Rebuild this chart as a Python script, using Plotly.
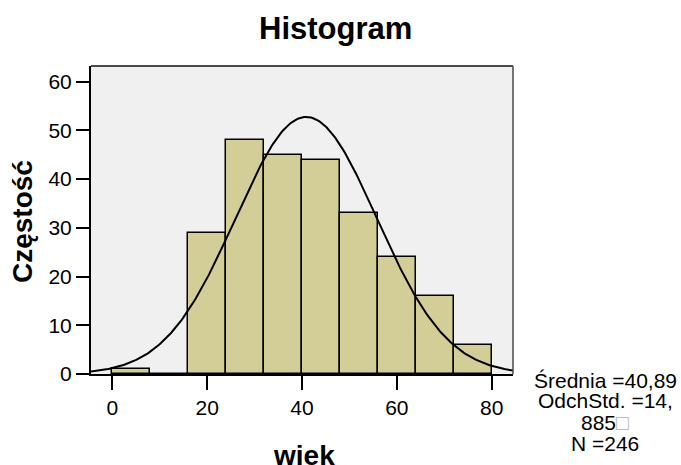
import numpy as np
import plotly.graph_objects as go

bin_starts = [0, 8, 16, 24, 32, 40, 48, 56, 64, 72]
counts = [1, 0, 29, 48, 45, 44, 33, 24, 16, 6]
bin_width = 8
mean = 40.89
std = 14.885
n = 246
x_ticks = [0, 20, 40, 60, 80]
y_ticks = [0, 10, 20, 30, 40, 50, 60]
stats_lines = ["Średnia =40,89", "OdchStd. =14,", "885<span style='color:#b0b0b0'>□</span>", "N =246"]

centers = [s + bin_width / 2 for s in bin_starts]

xr = [-4.5, 84.5]
xs = np.linspace(xr[0], xr[1], 300)
ys = n * bin_width / (std * np.sqrt(2 * np.pi)) * np.exp(-0.5 * ((xs - mean) / std) ** 2)

W, H = 681, 465
L, R, T, B = 91, 513, 66, 374

fig = go.Figure()
fig.add_trace(go.Bar(x=centers, y=counts, width=bin_width,
                     marker=dict(color="#d3ce97", line=dict(color="black", width=1.5)),
                     showlegend=False))
fig.add_trace(go.Scatter(x=xs, y=ys, mode="lines", line=dict(color="black", width=2),
                         showlegend=False))

font = "Liberation Sans, Arial, sans-serif"
fig.update_layout(
    width=W, height=H,
    margin=dict(l=L, r=W - R, t=T, b=H - B),
    paper_bgcolor="white", plot_bgcolor="#f0f0f0",
    font=dict(family=font, size=21, color="black"),
    bargap=0,
)
fig.update_xaxes(range=xr, tickvals=x_ticks, ticks="outside", ticklen=14, tickwidth=2, tickcolor="black",
                 showline=True, linecolor="black", linewidth=2, mirror=False, showgrid=False, zeroline=False)
fig.update_yaxes(range=[0, 63.2], tickvals=y_ticks, ticks="outside", ticklen=13, tickwidth=2, tickcolor="black",
                 showline=True, linecolor="black", linewidth=2, mirror=False, showgrid=False, zeroline=False)

# top and right frame lines (dark grey)
fig.add_shape(type="line", xref="paper", yref="paper", x0=0, x1=1, y0=1, y1=1,
              line=dict(color="#4a4a4a", width=2))
fig.add_shape(type="line", xref="paper", yref="paper", x0=1, x1=1, y0=0, y1=1,
              line=dict(color="#4a4a4a", width=1.5))

def px_x(p):
    return (p - L) / (R - L)

def px_y(p):
    return (B - p) / (B - T)

fig.add_annotation(xref="paper", yref="paper", x=px_x(335), y=px_y(28), xanchor="center", yanchor="middle",
                   showarrow=False, text="<b>Histogram</b>", font=dict(size=31, family=font))
fig.add_annotation(xref="paper", yref="paper", x=px_x(304), y=px_y(455), xanchor="center", yanchor="middle",
                   showarrow=False, text="<b>wiek</b>", font=dict(size=28, family=font))
fig.add_annotation(xref="paper", yref="paper", x=px_x(22), y=px_y(222), xanchor="center", yanchor="middle",
                   showarrow=False, text="<b>Częstość</b>", textangle=-90, font=dict(size=28, family=font))

for i, line in enumerate(stats_lines):
    fig.add_annotation(xref="paper", yref="paper", x=px_x(605), y=px_y(380 + 21 * i),
                       xanchor="center", yanchor="middle", showarrow=False,
                       text=line, font=dict(size=21, family=font))

fig.write_html("out.html", config={"displayModeBar": False},
               post_script="document.body.style.margin='0';document.body.style.padding='0';")
